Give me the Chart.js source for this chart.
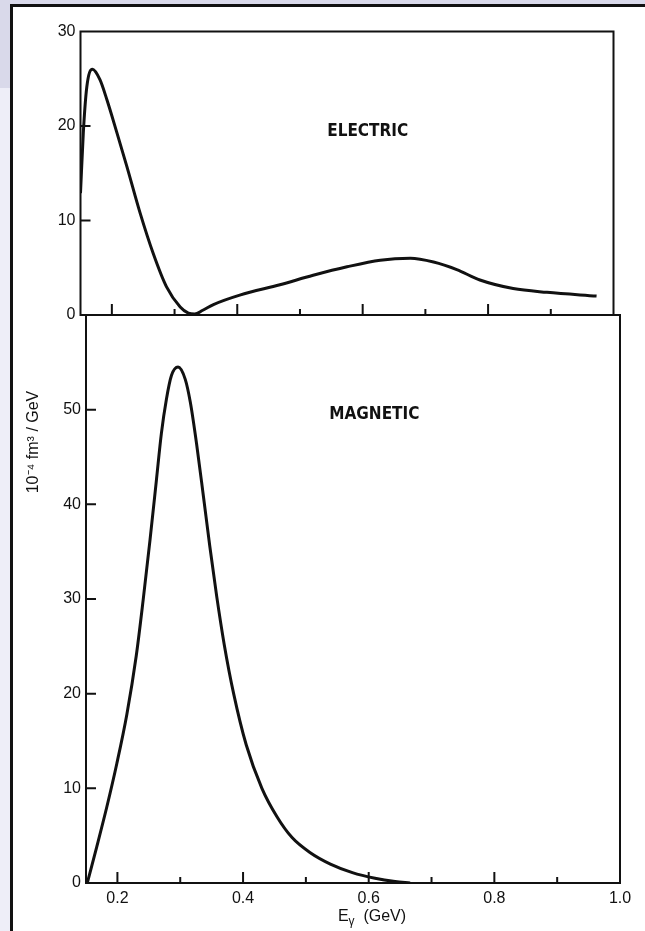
<!DOCTYPE html>
<html>
<head>
<meta charset="utf-8">
<script src="https://cdn.jsdelivr.net/npm/chart.js@4.4.1/dist/chart.umd.min.js"></script>
<style>
  html, body { margin: 0; padding: 0; }
  body { width: 645px; height: 931px; background: #eeeef8; position: relative; overflow: hidden; }
  #patch { position: absolute; left: 0; top: 0; width: 645px; height: 5px; background: #d9d9ea; }
  #patch2 { position: absolute; left: 0; top: 0; width: 11px; height: 88px; background: #d9d9ea; }
  #frame { position: absolute; left: 10px; top: 4px; width: 640px; height: 940px; background: #fff;
           border-left: 3px solid #111; border-top: 3px solid #111; box-sizing: border-box; }
  canvas { position: absolute; left: 0; top: 0; }
</style>
</head>
<body>
<div id="patch"></div>
<div id="patch2"></div>
<div id="frame"></div>
<canvas id="electric" width="645" height="931"></canvas>
<canvas id="magnetic" width="645" height="931"></canvas>
<script>
// E_gamma (GeV)
var electricX = [0.150, 0.1545, 0.160, 0.169, 0.181, 0.192, 0.208, 0.224, 0.245, 0.266, 0.287, 0.309, 0.322, 0.332, 0.345, 0.362, 0.404, 0.468, 0.521, 0.575, 0.628, 0.676, 0.713, 0.750, 0.787, 0.840, 0.894, 0.973];
var electricY = [12.9, 19.3, 24.1, 26.0, 24.9, 22.8, 19.3, 15.7, 10.8, 6.5, 3.0, 0.85, 0.2, 0.1, 0.5, 1.1, 2.1, 3.2, 4.2, 5.1, 5.8, 6.0, 5.6, 4.8, 3.7, 2.8, 2.4, 2.0];

var magneticX = [0.152, 0.167, 0.183, 0.199, 0.215, 0.230, 0.241, 0.252, 0.262, 0.270, 0.278, 0.286, 0.2965, 0.308, 0.316, 0.326, 0.337, 0.347, 0.358, 0.370, 0.385, 0.405, 0.430, 0.454, 0.478, 0.507, 0.539, 0.574, 0.610, 0.642, 0.666];
var magneticY = [0, 3.8, 8.0, 12.6, 17.8, 24.0, 29.9, 36.3, 42.5, 47.5, 51.1, 53.6, 54.5, 53.2, 50.8, 46.4, 40.8, 35.6, 30.3, 25.2, 20.0, 14.6, 10.0, 7.0, 4.8, 3.2, 2.0, 1.1, 0.5, 0.15, 0];

var xTickMarks = [0.2, 0.3, 0.4, 0.5, 0.6, 0.7, 0.8, 0.9];
var xTickLabels = [0.2, 0.4, 0.6, 0.8, 1.0];
var electricYTicks = [0, 10, 20, 30];
var magneticYTicks = [0, 10, 20, 30, 40, 50, 60];

function points(xs, ys) {
    return xs.map(function (x, i) { return { x: x, y: ys[i] }; });
}

var tickFont = { family: '"Liberation Sans", Arial, sans-serif', size: 16 };

// frame + inward ticks
var framePlugin = {
    id: 'framePlugin',
    afterDraw: function (chart) {
        var ctx = chart.ctx, a = chart.chartArea;
        var xs = chart.scales.x, ys = chart.scales.y;
        ctx.save();
        ctx.strokeStyle = '#111';
        ctx.lineWidth = 2;
        ctx.strokeRect(a.left, a.top, a.right - a.left, a.bottom - a.top);
        ctx.beginPath();
        xTickMarks.forEach(function (v) {
            var px = xs.getPixelForValue(v);
            var len = (Math.round(v * 10) % 2 === 0) ? 11 : 6;
            ctx.moveTo(px, a.bottom);
            ctx.lineTo(px, a.bottom - len);
        });
        ys.ticks.forEach(function (t) {
            if (t.value <= ys.min || t.value >= ys.max) return;
            var py = ys.getPixelForValue(t.value);
            ctx.moveTo(a.left, py);
            ctx.lineTo(a.left + 10, py);
        });
        ctx.stroke();
        ctx.restore();
    }
};

function makeOptions(yMin, yMax, yTicks, showX, pad) {
    return {
        responsive: false,
        animation: false,
        layout: { padding: pad },
        plugins: { legend: { display: false }, tooltip: { enabled: false } },
        elements: { point: { radius: 0 } },
        scales: {
            x: {
                type: 'linear', min: 0.15, max: 1.0,
                display: showX,
                afterFit: function (s) { s.height = showX ? 40 : 0; },
                afterBuildTicks: function (s) { s.ticks = xTickLabels.map(function (v) { return { value: v }; }); },
                grid: { display: false, drawTicks: false },
                border: { display: false },
                ticks: { color: '#111', font: tickFont, padding: 6, maxRotation: 0,
                         callback: function (v) { return Number(v).toFixed(1); } }
            },
            y: {
                type: 'linear', min: yMin, max: yMax,
                afterFit: function (s) { s.width = 40; },
                afterBuildTicks: function (s) { s.ticks = yTicks.map(function (v) { return { value: v }; }); },
                grid: { display: false, drawTicks: false },
                border: { display: false },
                ticks: { color: '#111', font: tickFont, padding: 5,
                         callback: function (v) { return v === 60 ? '' : String(v); } }
            }
        }
    };
}

var labelPlugin = {
    id: 'labelPlugin',
    afterDraw: function (chart) {
        var o = chart.options.plugins.labelPlugin;
        var ctx = chart.ctx;
        ctx.save();
        ctx.fillStyle = '#111';
        ctx.font = 'bold 17px "Liberation Sans Narrow", "DejaVu Sans Condensed", sans-serif';
        ctx.textAlign = 'center';
        ctx.textBaseline = 'middle';
        ctx.fillText(o.text, chart.scales.x.getPixelForValue(o.x), chart.scales.y.getPixelForValue(o.y));
        if (o.axisTitles) {
            // x title: E with subscript gamma
            var cx = 372, by = 921;
            ctx.textBaseline = 'alphabetic';
            ctx.textAlign = 'left';
            ctx.font = '16px "Liberation Sans", Arial, sans-serif';
            var wE = ctx.measureText('E').width;
            var rest = '  (GeV)';
            var wR = ctx.measureText(rest).width;
            ctx.font = '12px "Liberation Sans", Arial, sans-serif';
            var wG = ctx.measureText('γ').width;
            var x0 = cx - (wE + wG + wR) / 2;
            ctx.font = '16px "Liberation Sans", Arial, sans-serif';
            ctx.fillText('E', x0, by);
            ctx.font = '12px "Liberation Sans", Arial, sans-serif';
            ctx.fillText('γ', x0 + wE, by + 4);
            ctx.font = '16px "Liberation Sans", Arial, sans-serif';
            ctx.fillText(rest, x0 + wE + wG, by);
            // y title
            ctx.translate(34, 442);
            ctx.rotate(-Math.PI / 2);
            ctx.textAlign = 'center';
            ctx.textBaseline = 'middle';
            ctx.font = '16px "Liberation Sans", Arial, sans-serif';
            ctx.fillText('10⁻⁴ fm³ / GeV', 0, 0);
        }
        ctx.restore();
    }
};

document.addEventListener('DOMContentLoaded', function () {
    var optE = makeOptions(0, 30, electricYTicks, false,
        { left: 40.5, right: 31.5, top: 31.5, bottom: 616 });
    optE.plugins.labelPlugin = { text: 'ELECTRIC', x: 0.608, y: 19.4, axisTitles: false };
    new Chart(document.getElementById('electric').getContext('2d'), {
        type: 'line',
        data: {
            datasets: [{
                data: points(electricX, electricY),
                borderColor: '#111', borderWidth: 3,
                cubicInterpolationMode: 'monotone', fill: false
            }]
        },
        options: optE,
        plugins: [framePlugin, labelPlugin]
    });

    var optM = makeOptions(0, 60, magneticYTicks, true,
        { left: 46, right: 25, top: 315, bottom: 8 });
    optM.plugins.labelPlugin = { text: 'MAGNETIC', x: 0.609, y: 49.5, axisTitles: true };
    new Chart(document.getElementById('magnetic').getContext('2d'), {
        type: 'line',
        data: {
            datasets: [{
                data: points(magneticX, magneticY),
                borderColor: '#111', borderWidth: 3,
                cubicInterpolationMode: 'monotone', fill: false
            }]
        },
        options: optM,
        plugins: [framePlugin, labelPlugin]
    });
});
</script>
</body>
</html>
